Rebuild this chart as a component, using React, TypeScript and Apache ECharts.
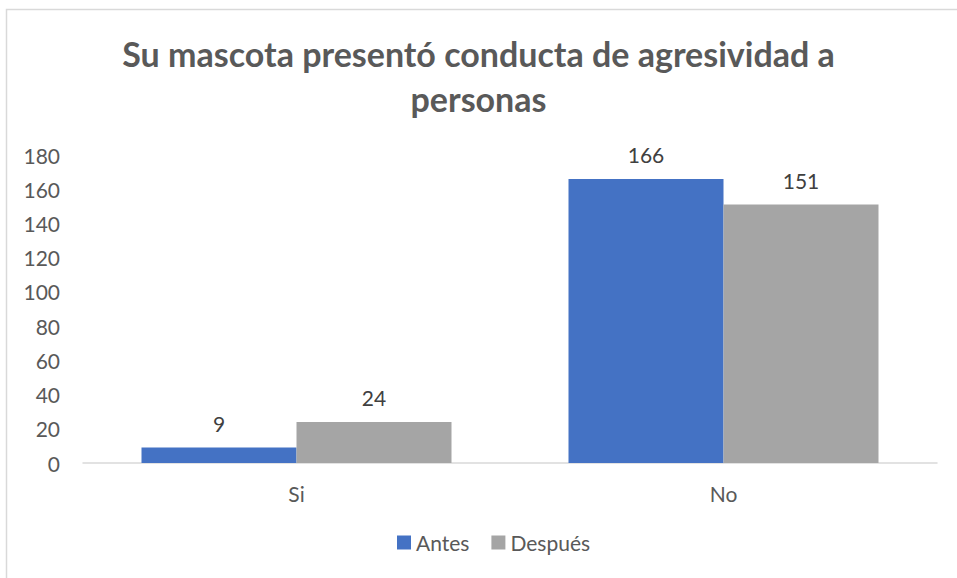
import React, { useEffect, useRef } from "react";
import * as echarts from "echarts";

const categories = ["Si", "No"];
const antes = [9, 166];
const despues = [24, 151];
const titleText = "Su mascota presentó conducta de agresividad a\npersonas";
const FONT = "Lato, 'Open Sans', sans-serif";

export default function App() {
  const ref = useRef<HTMLDivElement>(null);
  useEffect(() => {
    document.body.style.margin = "0";
    const chart = echarts.init(ref.current!, null, { renderer: "svg" });
    const label = {
      show: true,
      position: "top" as const,
      distance: 14,
      color: "#404040",
      fontSize: 21,
      fontFamily: FONT,
    };
    chart.setOption({
      animation: false,
      backgroundColor: "#fff",
      textStyle: { fontFamily: FONT },
      title: {
        text: titleText,
        left: "center",
        top: 26,
        textStyle: {
          fontFamily: FONT,
          fontSize: 34,
          fontWeight: "bold",
          color: "#595959",
          lineHeight: 45,
        },
      },
      graphic: [
        {
          type: "rect",
          shape: { x: 6.5, y: 9.5, width: 960, height: 600 },
          style: { fill: "none", stroke: "#D9D9D9", lineWidth: 1.5 },
          silent: true,
        },
      ],
      legend: {
        bottom: 20,
        left: 392,
        itemWidth: 14,
        itemHeight: 14,
        itemGap: 22,
        icon: "rect",
        textStyle: { fontSize: 21, color: "#595959", fontFamily: FONT },
        data: ["Antes", "Después"],
      },
      grid: { left: 83, right: 20, top: 155, bottom: 115, containLabel: false },
      xAxis: {
        type: "category",
        data: categories,
        axisLine: { lineStyle: { color: "#D9D9D9", width: 1.5 } },
        axisTick: { show: false },
        axisLabel: { fontSize: 21, color: "#595959", margin: 20, fontFamily: FONT },
      },
      yAxis: {
        type: "value",
        min: 0,
        max: 180,
        interval: 20,
        splitLine: { show: false },
        axisLine: { show: false },
        axisTick: { show: false },
        axisLabel: { fontSize: 21, color: "#595959", margin: 23, fontFamily: FONT },
      },
      series: [
        {
          name: "Antes",
          type: "bar",
          data: antes,
          barWidth: 155,
          barGap: "0%",
          itemStyle: { color: "#4472C4" },
          label,
        },
        {
          name: "Después",
          type: "bar",
          data: despues,
          barWidth: 155,
          barGap: "0%",
          itemStyle: { color: "#A5A5A5" },
          label,
        },
      ],
    });
    return () => chart.dispose();
  }, []);
  return <div ref={ref} style={{ width: 957, height: 578 }} />;
}
